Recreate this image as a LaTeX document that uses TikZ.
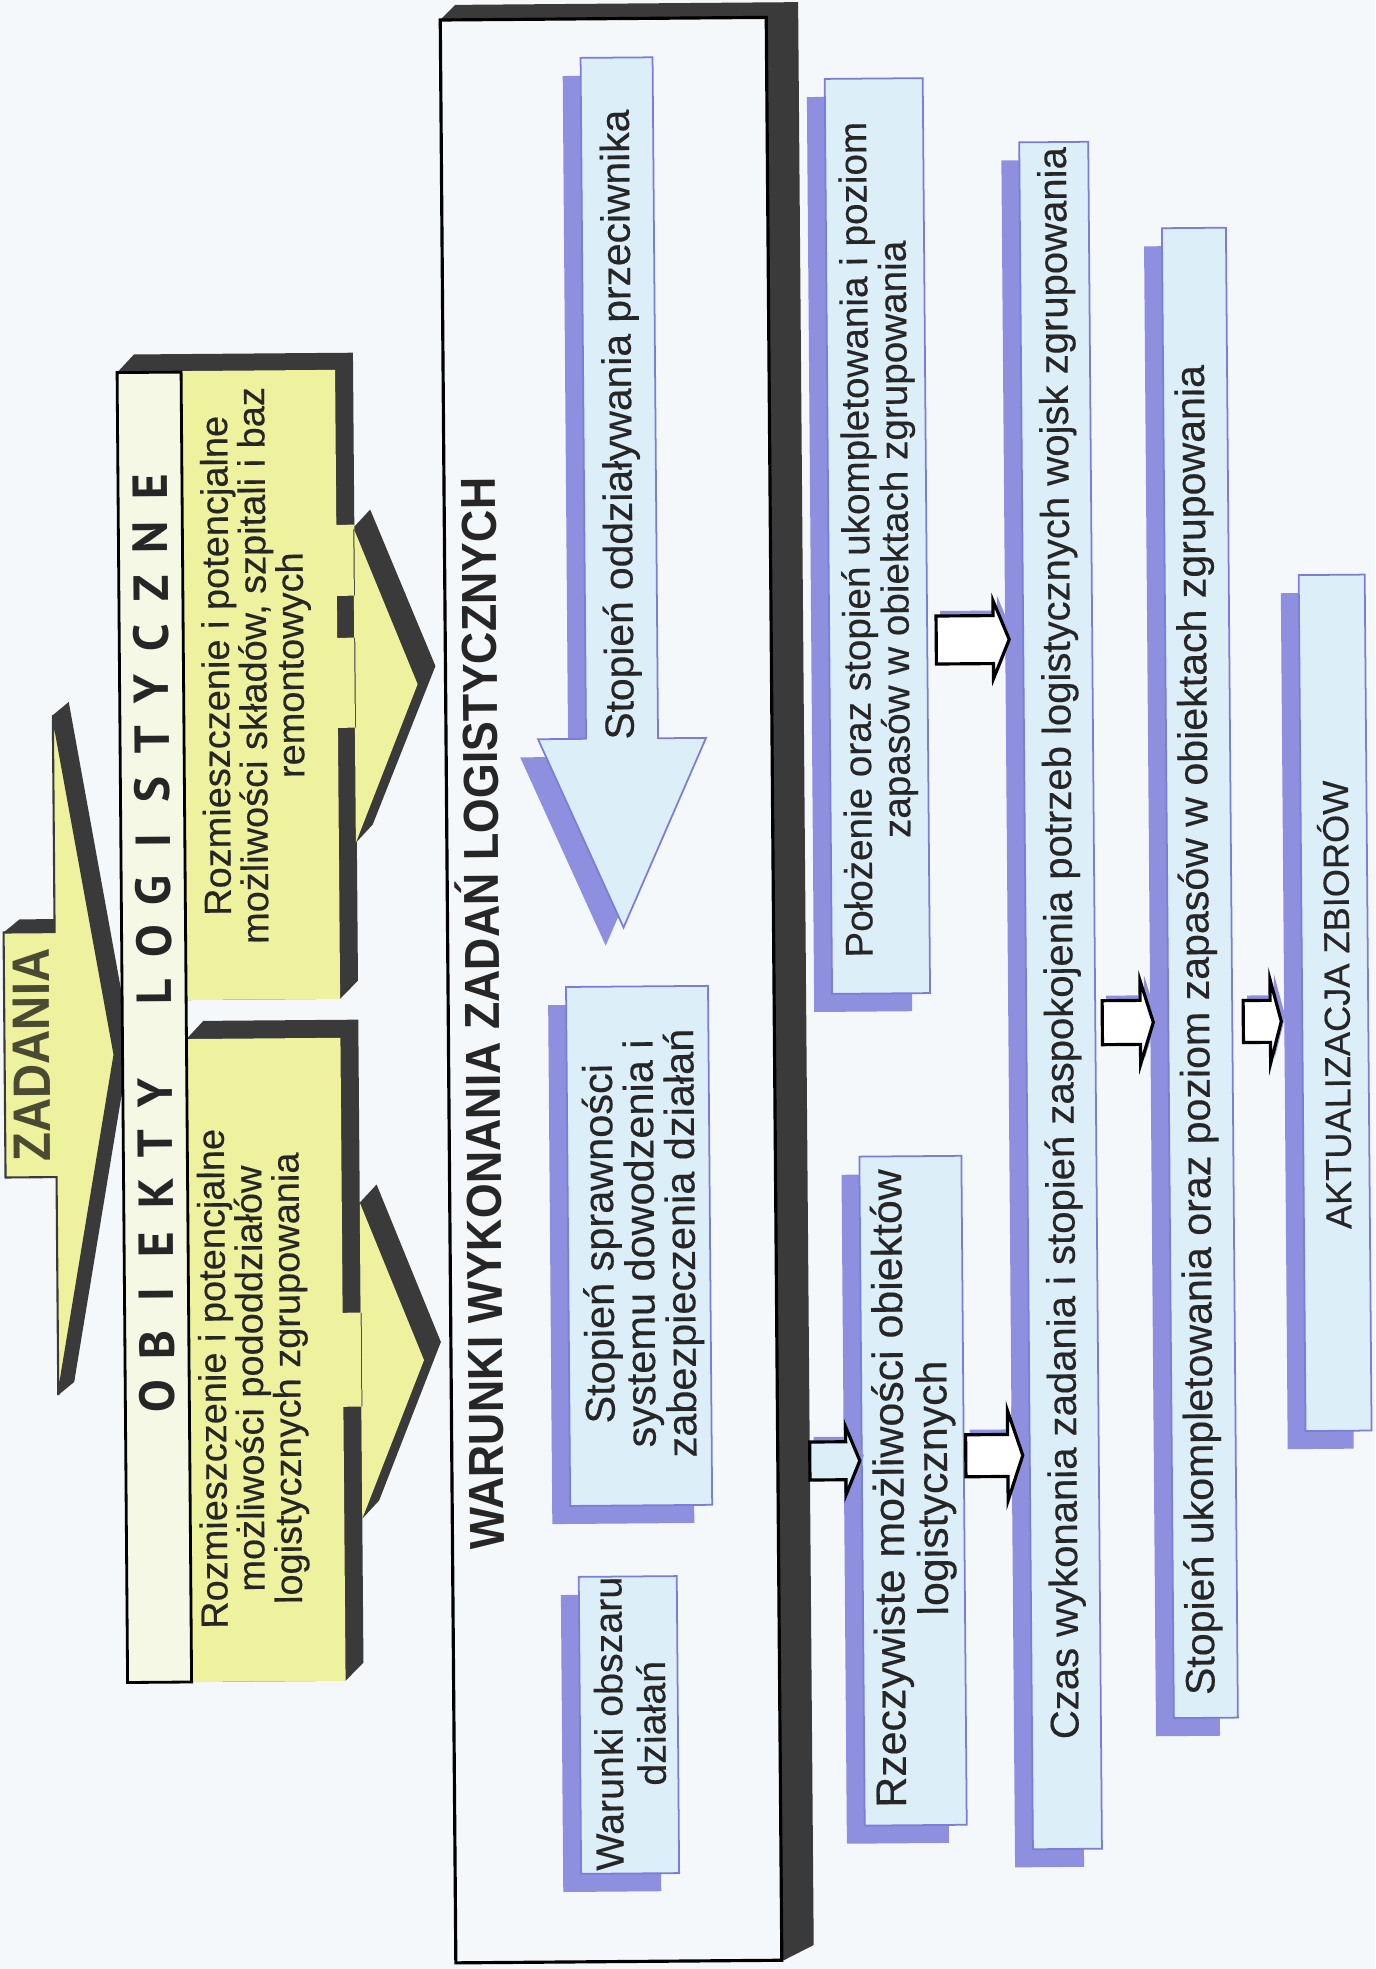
\documentclass[tikz,border=0pt]{standalone}
\usepackage{fontspec}
\usepackage{graphicx}
\setmainfont{Liberation Sans}
\newfontfamily\boxfont[FakeBold=0.35]{Liberation Sans}
\newfontfamily\spacedfont{PT Sans}
\usetikzlibrary{calc}

\definecolor{page}{HTML}{F5F8FB}
\definecolor{ink}{HTML}{262626}
\definecolor{darkink}{HTML}{3A3A3A}
\definecolor{yel}{HTML}{EEF29E}
\definecolor{cream}{HTML}{F6F8E6}
\definecolor{boxfill}{HTML}{DCEFF9}
\definecolor{boxshade}{HTML}{8E8FDE}
\definecolor{boxedge}{HTML}{7B7DD8}
\definecolor{olive}{HTML}{4B4B33}

\tikzset{
  vtext/.style={rotate=90, align=center, text=ink, inner sep=0pt},
  lightbox/.style={fill=boxfill, draw=boxedge, line width=0.5pt},
  boxshadow/.style={fill=boxshade},
  extrude/.style={fill=darkink},
  yellowface/.style={fill=yel},
}
% text size and line pitch for the rotated labels
\newcommand\bsize[2]{\boxfont\fontsize{#1}{#2}\selectfont}

% light blue box with its shadow offset down-left
\newcommand\shadedbox[4]{%
  \fill[boxshadow] ({#1-18},{#2+18}) rectangle ({#3-18},{#4+18});
  \filldraw[lightbox] (#1,#2) rectangle (#3,#4);}

% right-pointing block arrow: tail x, tip x, centre y, half shaft, half head, head length, fill
\newcommand\blockarrow[7]{%
  \fill[boxshadow] ({#1+4},{#3-#4-5}) -- ({#2-#6+4},{#3-#4-5}) -- ({#2-#6+4},{#3-#5-5})
     -- ({#2+4},{#3-5}) -- ({#2-#6+4},{#3+#5-5}) -- ({#2-#6+4},{#3+#4-5})
     -- ({#1+4},{#3+#4-5}) -- cycle;
  \filldraw[fill=#7, draw=black, line width=0.9pt, line join=miter]
     (#1,{#3-#4}) -- ({#2-#6},{#3-#4}) -- ({#2-#6},{#3-#5}) -- (#2,#3)
     -- ({#2-#6},{#3+#5}) -- ({#2-#6},{#3+#4}) -- (#1,{#3+#4}) -- cycle;}

\newcommand\ls[1]{\makebox[5.05mm]{#1}}

\begin{document}
\begin{tikzpicture}[x=0.1mm,y=-0.1mm]
\fill[page] (0,0) rectangle (1375,1969);
\useasboundingbox (0,0) rectangle (1375,1969);

\begin{scope}[rotate around={0.46:(688,985)}, transform shape]

% ---------- ZADANIA arrow ----------
\fill[extrude] (4,927) -- (20,914) -- (71,914) -- (71,1159) -- (55,1172) -- (4,1172) -- cycle;
\fill[extrude] (55,710) -- (71,697) -- (130,1037) -- (71,1377) -- (55,1390) -- cycle;
\filldraw[yellowface, draw=darkink, line width=0.6pt]
  (4,927) -- (55,927) -- (55,710) -- (114,1050) -- (55,1390) -- (55,1172) -- (4,1172) -- cycle;
\node[rotate=90, text=olive, inner sep=0pt, font=\fontsize{15}{17}\selectfont\bfseries]
  (zad) at (31,1050) {\scalebox{0.9}[1]{ZADANIA}};

% ---------- OBIEKTY LOGISTYCZNE block ----------
% extruded dark sides
\fill[extrude] (122,368) -- (139,350) -- (358,350) -- (358,978) -- (340,996) -- (122,996) -- cycle;
\fill[extrude] (357,525) -- (374,507) -- (438,664) -- (374,822) -- (357,840) -- cycle;
\fill[extrude] (186,1035) -- (203,1017) -- (358,1017) -- (358,1660) -- (340,1678) -- (186,1678) -- cycle;
\fill[extrude] (358,1200) -- (375,1182) -- (438,1340) -- (375,1498) -- (358,1516) -- cycle;
% yellow faces
\fill[yellowface] (186,367) rectangle (340,996)
  (339,522) rectangle (358,593) (339,635) rectangle (358,725)
  (357,525) -- (420,682) -- (357,840) -- cycle;
\fill[yellowface] (186,1035) rectangle (340,1678)
  (339,1310) rectangle (359,1404)
  (358,1200) -- (421,1358) -- (358,1516) -- cycle;
% lettered strip
\filldraw[fill=cream, draw=black, line width=0.8pt] (122,368) rectangle (186,1678);
\node[rotate=90, inner sep=0pt, text=ink, font=\spacedfont\bfseries\fontsize{14}{16}\selectfont]
  (obl) at (154,937)
  {\ls{O}\ls{B}\ls{I}\ls{E}\ls{K}\ls{T}\ls{Y}\ls{}\ls{L}\ls{O}\ls{G}\ls{I}\ls{S}\ls{T}\ls{Y}\ls{C}\ls{Z}\ls{N}\ls{E}};
\node[vtext, font=\bsize{10.8}{10.6}] (upper) at (259,662)
  {Rozmieszczenie i potencjalne\\możliwości składów, szpitali i baz\\remontowych};
\node[vtext, font=\bsize{10.8}{10.6}] (lower) at (250,1375)
  {Rozmieszczenie i potencjalne\\możliwości pododdziałów\\logistycznych zgrupowania};

% ---------- main frame ----------
\fill[extrude] (448,18) -- (463,3) -- (806,3) -- (806,1946) -- (776,1961) -- (448,1961) -- cycle;
\filldraw[fill=page, draw=black, line width=0.9pt] (448,18) rectangle (774,1961);
\node[rotate=90, inner sep=0pt, text=ink, font=\fontsize{14}{16}\selectfont\bfseries]
  (title) at (478,1012) {\scalebox{0.91}[1]{WARUNKI WYKONANIA ZADAŃ LOGISTYCZNYCH}};

% down arrow with the enemy influence
\fill[boxshadow] (570,75) -- (642,75) -- (642,756) -- (690,756) -- (606,945) -- (522,756) -- (570,756) -- cycle;
\filldraw[lightbox] (588,57) -- (660,57) -- (660,738) -- (708,738) -- (624,927) -- (540,738) -- (588,738) -- cycle;
\node[vtext, font=\bsize{11.6}{12.6}] (enemy) at (625,424) {Stopień oddziaływania przeciwnika};

\shadedbox{566}{986}{708}{1505}
\node[vtext, font=\bsize{11.8}{11.6}] (command) at (641,1243) {Stopień sprawności\\systemu dowodzenia i\\zabezpieczenia działań};

\shadedbox{574}{1576}{672}{1873}
\node[vtext, font=\bsize{11.2}{12.2}] (area) at (624,1723) {Warunki obszaru\\działań};

% ---------- right-hand columns ----------
\shadedbox{832}{80}{930}{995}
\node[vtext, font=\bsize{11}{11}] (position) at (882,541)
  {Położenie oraz stopień ukompletowania i poziom\\zapasów w obiektach zgrupowania};

\shadedbox{858}{1158}{960}{1827}
\node[vtext, font=\bsize{12.2}{12.4}] (real) at (910,1490) {Rzeczywiste możliwości obiektów\\logistycznych};

\shadedbox{1026}{145}{1095}{1852}
\node[vtext, font=\bsize{11.4}{12}] (time) at (1062,946)
  {Czas wykonania zadania i stopień zaspokojenia potrzeb logistycznych wojsk zgrupowania};

\shadedbox{1168}{232}{1232}{1722}
\node[vtext, font=\bsize{11.7}{12}] (stock) at (1198,1034)
  {Stopień ukompletowania oraz poziom zapasów w obiektach zgrupowania};

\shadedbox{1302}{580}{1368}{1436}
\node[vtext, font=\bsize{10.3}{11}] (update) at (1334,1010) {AKTUALIZACJA ZBIORÓW};

% block arrows between the columns
\blockarrow{939}{1012}{642}{24}{39}{16}{white}
\blockarrow{806}{856}{1462}{19}{34}{14}{boxfill}
\blockarrow{962}{1019}{1458}{21}{45}{15}{white}
\blockarrow{1102}{1153}{1026}{22}{42}{13}{white}
\blockarrow{1243}{1281}{1026}{21}{42}{11}{white}

\end{scope}
\end{tikzpicture}
\end{document}
